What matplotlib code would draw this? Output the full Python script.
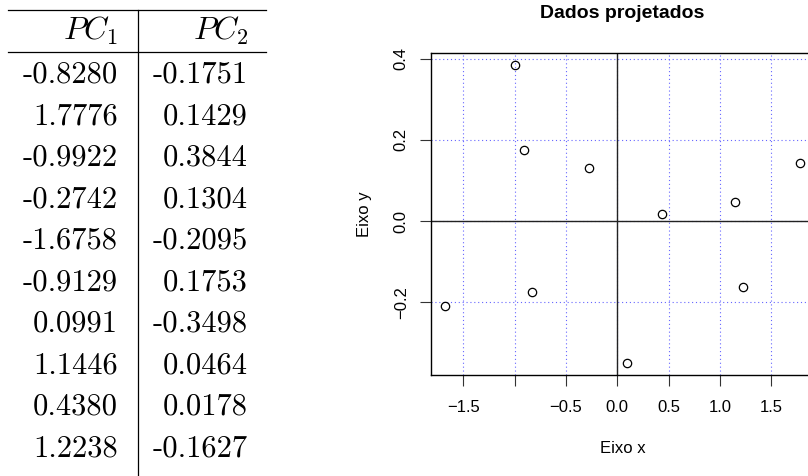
import matplotlib
matplotlib.use("Agg")
import matplotlib.pyplot as plt

plt.rcParams.update(
    {
        "font.family": ["Liberation Sans", "DejaVu Sans"],
        "mathtext.fontset": "cm",
        "axes.unicode_minus": True,
    }
)

# projected data (PC1, PC2)
pc1 = [-0.8280, 1.7776, -0.9922, -0.2742, -1.6758, -0.9129, 0.0991, 1.1446, 0.4380, 1.2238]
pc2 = [-0.1751, 0.1429, 0.3844, 0.1304, -0.2095, 0.1753, -0.3498, 0.0464, 0.0178, -0.1627]
col_headers = [r"$PC_1$", r"$PC_2$"]

xticks = [-1.5, -1.0, -0.5, 0.0, 0.5, 1.0, 1.5]
xtick_labels = ["\u22121.5", "", "\u22120.5", "0.0", "0.5", "1.0", "1.5"]
yticks = [-0.2, 0.0, 0.2, 0.4]
ytick_labels = ["\u22120.2", "0.0", "0.2", "0.4"]

W, H = 808, 476
fig = plt.figure(figsize=(W / 100, H / 100), dpi=100)

# ---- table on the left (pixel coordinates) ----
tab = fig.add_axes([0, 0, 1, 1])
tab.set_xlim(0, W)
tab.set_ylim(H, 0)
tab.axis("off")

col_right = [118, 248]
header_y = 31
row_y0, row_h = 75, 41.5
rule_kw = dict(color="black", lw=0.9)
tab.plot([8, 266], [9.5, 9.5], **rule_kw)
tab.plot([8, 266], [52, 52], **rule_kw)
tab.plot([138, 138], [9.5, H], **rule_kw)

for c, head in enumerate(col_headers):
    tab.text(col_right[c], header_y, head, fontsize=23, ha="right", va="center")
for i, (a, b) in enumerate(zip(pc1, pc2)):
    y = row_y0 + i * row_h
    for c, v in enumerate((a, b)):
        tab.text(col_right[c], y, "{:.4f}".format(v), family="cmr10", fontsize=22,
                 ha="right", va="center")

# ---- scatter on the right ----
ax = fig.add_axes([431 / W, 1 - 375 / H, (814 - 431) / W, (375 - 53) / H])
ax.plot(pc1, pc2, "o", mfc="none", mec="black", ms=6, mew=0.9, zorder=3)
ax.set_xlim(-1.814, 1.916)
ax.set_ylim(-0.3792, 0.4138)

ax.set_xticks(xticks)
ax.set_xticklabels(xtick_labels)
ax.set_yticks(yticks)
ax.set_yticklabels(ytick_labels, rotation=90, va="center")
ax.tick_params(length=8, width=0.8, labelsize=12, color="#333333")
ax.tick_params(axis="x", pad=10)
ax.tick_params(axis="y", pad=8)

ax.grid(True, color="#6666ff", linestyle=(0, (1, 2.5)), lw=0.8)
ax.axhline(0, color="#222222", lw=1.0, zorder=2)
ax.axvline(0, color="#222222", lw=1.0, zorder=2)
for s in ax.spines.values():
    s.set_linewidth(1.0)

ax.set_title("Dados projetados", fontsize=14, weight="bold", pad=25)
ax.set_xlabel("Eixo x", fontsize=12, labelpad=19)
ax.set_ylabel("Eixo y", fontsize=12, labelpad=16)

fig.savefig("out.png", dpi=100)
